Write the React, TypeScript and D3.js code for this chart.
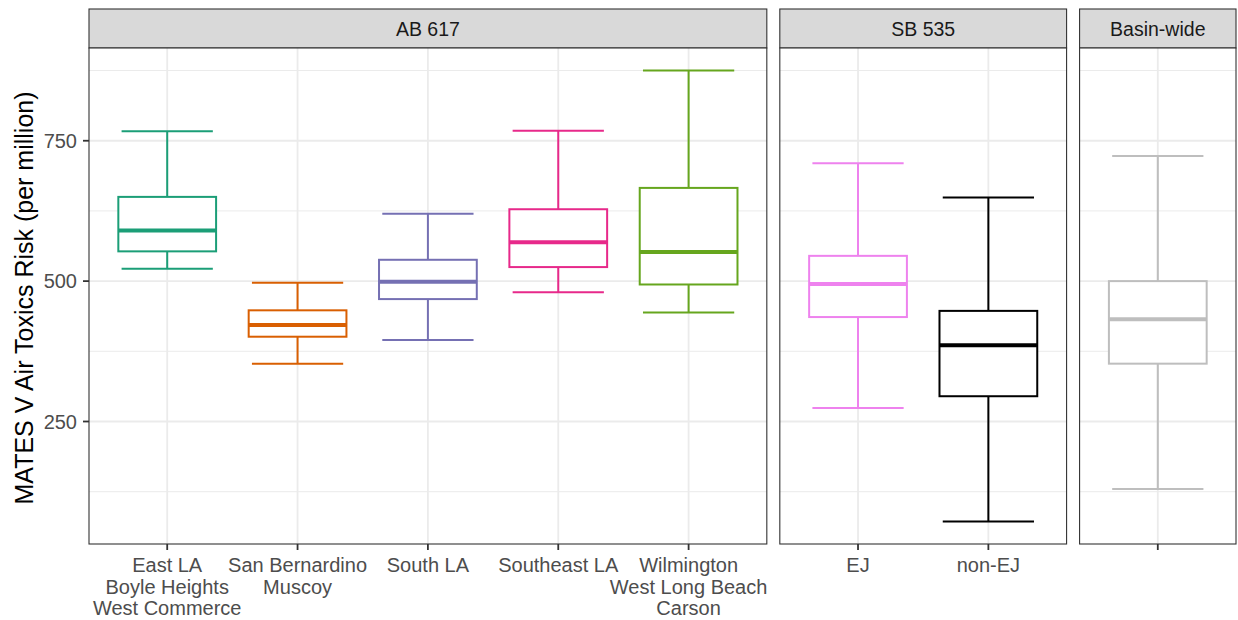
import React from "react";
import * as d3 from "d3";

// ---- data ----
const panels = ["AB 617", "SB 535", "Basin-wide"];
const categories = [
  "East LA\nBoyle Heights\nWest Commerce",
  "San Bernardino\nMuscoy",
  "South LA",
  "Southeast LA",
  "Wilmington\nWest Long Beach\nCarson",
  "EJ",
  "non-EJ",
  "",
];
const categoryPanel = ["AB 617", "AB 617", "AB 617", "AB 617", "AB 617", "SB 535", "SB 535", "Basin-wide"];
const whiskerLow = [522, 353, 395, 480, 444, 274, 72, 130];
const q1 = [553, 401, 468, 525, 494, 436, 295, 353];
const median = [590, 422, 499, 569, 552, 495, 386, 432];
const q3 = [650, 448, 538, 628, 666, 545, 447, 500];
const whiskerHigh = [767, 497, 620, 768, 875, 710, 649, 723];
const colors = ["#1B9E77", "#D95F02", "#7570B3", "#E7298A", "#66A61E", "#EE82EE", "#000000", "#BEBEBE"];
const yTicks = [250, 500, 750];
const yMinor = [125, 375, 625, 875];

const W = 1238;
const H = 620;
const plotLeft = 89;
const plotRight = 1236;
const plotTop = 48;
const plotBottom = 544;
const stripTop = 9;
const gap = 13;
const font = "'Liberation Sans', Arial, Helvetica, sans-serif";

export default function App() {
  const lo = d3.min(whiskerLow)!;
  const hi = d3.max(whiskerHigh)!;
  const pad = (hi - lo) * 0.05;
  const y = d3.scaleLinear().domain([lo - pad, hi + pad]).range([plotBottom, plotTop]);

  const panelCats = panels.map((p) => categories.map((c, i) => i).filter((i) => categoryPanel[i] === p));
  const units = panelCats.map((c) => c.length + 0.2);
  const totalUnits = d3.sum(units);
  const unitPx = (plotRight - plotLeft - gap * (panels.length - 1)) / totalUnits;

  let cursor = plotLeft;
  const panelLayout = panels.map((p, k) => {
    const w = units[k] * unitPx;
    const x0 = cursor;
    cursor += w + gap;
    const x = d3.scaleLinear().domain([0.4, panelCats[k].length + 0.6]).range([x0, x0 + w]);
    return { name: p, x0, w, x, cats: panelCats[k] };
  });

  const boxW = 0.75;
  const capW = 0.7;

  return (
    <svg width={W} height={H} style={{ position: "absolute", left: 0, top: 0, background: "#fff" }} fontFamily={font}>
      <rect x={0} y={0} width={W} height={H} fill="#fff" />
      {panelLayout.map((pl) => (
        <g key={pl.name}>
          {/* strip */}
          <rect x={pl.x0} y={stripTop} width={pl.w} height={plotTop - stripTop} fill="#D9D9D9" stroke="#333" strokeWidth={1.1} />
          <text x={pl.x0 + pl.w / 2} y={(stripTop + plotTop) / 2 + 0.5} dy="0.36em" textAnchor="middle" fontSize={19.5} fill="#1A1A1A">
            {pl.name}
          </text>
          {/* panel bg */}
          <rect x={pl.x0} y={plotTop} width={pl.w} height={plotBottom - plotTop} fill="#fff" />
          {yMinor.map((t) => (
            <line key={"mn" + t} x1={pl.x0} x2={pl.x0 + pl.w} y1={y(t)} y2={y(t)} stroke="#EBEBEB" strokeWidth={1} />
          ))}
          {yTicks.map((t) => (
            <line key={"mj" + t} x1={pl.x0} x2={pl.x0 + pl.w} y1={y(t)} y2={y(t)} stroke="#EBEBEB" strokeWidth={1.8} />
          ))}
          {pl.cats.map((ci, j) => (
            <line key={"vx" + ci} x1={pl.x(j + 1)} x2={pl.x(j + 1)} y1={plotTop} y2={plotBottom} stroke="#EBEBEB" strokeWidth={1.8} />
          ))}
          {/* boxes */}
          {pl.cats.map((ci, j) => {
            const cx = pl.x(j + 1);
            const bx0 = pl.x(j + 1 - boxW / 2);
            const bx1 = pl.x(j + 1 + boxW / 2);
            const cx0 = pl.x(j + 1 - capW / 2);
            const cx1 = pl.x(j + 1 + capW / 2);
            const col = colors[ci];
            return (
              <g key={"b" + ci} stroke={col} fill="none">
                <line x1={cx} x2={cx} y1={y(whiskerHigh[ci])} y2={y(q3[ci])} strokeWidth={2} />
                <line x1={cx} x2={cx} y1={y(q1[ci])} y2={y(whiskerLow[ci])} strokeWidth={2} />
                <line x1={cx0} x2={cx1} y1={y(whiskerHigh[ci])} y2={y(whiskerHigh[ci])} strokeWidth={2} />
                <line x1={cx0} x2={cx1} y1={y(whiskerLow[ci])} y2={y(whiskerLow[ci])} strokeWidth={2} />
                <rect x={bx0} y={y(q3[ci])} width={bx1 - bx0} height={y(q1[ci]) - y(q3[ci])} fill="#fff" strokeWidth={2} />
                <line x1={bx0} x2={bx1} y1={y(median[ci])} y2={y(median[ci])} strokeWidth={4} />
              </g>
            );
          })}
          {/* border */}
          <rect x={pl.x0} y={plotTop} width={pl.w} height={plotBottom - plotTop} fill="none" stroke="#333" strokeWidth={1.1} />
          {/* x ticks and labels */}
          {pl.cats.map((ci, j) => {
            const cx = pl.x(j + 1);
            const lines = categories[ci] === "" ? [] : categories[ci].split("\n");
            return (
              <g key={"xt" + ci}>
                <line x1={cx} x2={cx} y1={plotBottom} y2={plotBottom + 6} stroke="#333" strokeWidth={1.8} />
                {lines.map((ln, li) => (
                  <text key={li} x={cx} y={572 + li * 21.5} textAnchor="middle" fontSize={20} fill="#4D4D4D">
                    {ln}
                  </text>
                ))}
              </g>
            );
          })}
        </g>
      ))}
      {/* y axis ticks */}
      {yTicks.map((t) => (
        <g key={"yt" + t}>
          <line x1={plotLeft - 6} x2={plotLeft} y1={y(t)} y2={y(t)} stroke="#333" strokeWidth={1.8} />
          <text x={plotLeft - 12} y={y(t)} dy="0.36em" textAnchor="end" fontSize={20} fill="#4D4D4D">
            {t}
          </text>
        </g>
      ))}
      <text
        transform={`translate(33, ${(plotTop + plotBottom) / 2 + 2}) rotate(-90)`}
        textAnchor="middle"
        fontSize={25}
        fill="#000"
      >
        MATES V Air Toxics Risk (per million)
      </text>
    </svg>
  );
}
